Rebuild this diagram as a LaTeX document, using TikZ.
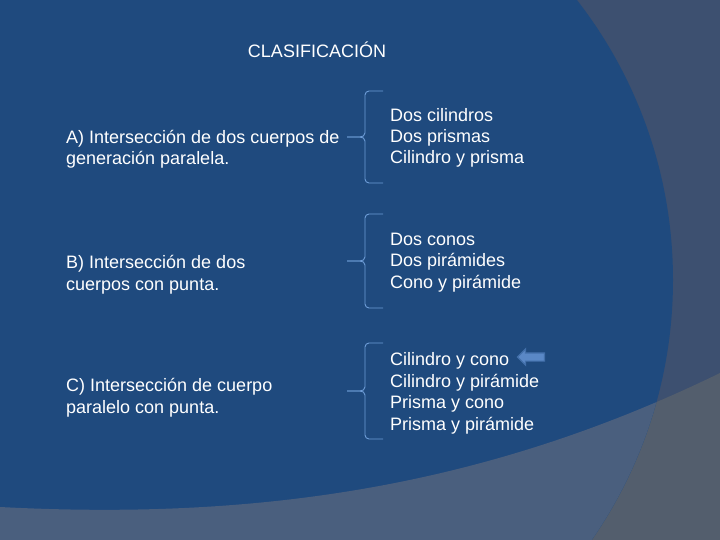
\documentclass[tikz,border=0pt]{standalone}
\usepackage{fontspec}
\setmainfont{Liberation Sans}
\usetikzlibrary{shapes.arrows}

\definecolor{fondo}{HTML}{3D5070}
\definecolor{azul}{HTML}{1F4A7E}
\definecolor{franja}{HTML}{535E6D}
\definecolor{franjaazul}{HTML}{4A5F7E}
\definecolor{llavecol}{HTML}{6E9DD8}
\definecolor{flechacol}{HTML}{5A88C6}

\tikzset{
  texto/.style={text=white, inner sep=0pt, align=left, anchor=base west,
    font=\fontsize{18}{21.4}\selectfont},
  llave/.style={draw=llavecol, line width=0.9pt}
}

\begin{document}
\begin{tikzpicture}[x=1pt,y=-1pt]
    \useasboundingbox (0,0) rectangle (720,540);
    % fondo
    \fill[fondo] (0,0) rectangle (720,540);
    \fill[franja] (0,507) .. controls (250,520) and (480,490) .. (720,373)
      -- (720,540) -- (0,540) -- cycle;
    \fill[azul] (217,280) circle[radius=456pt];
    \begin{scope}
      \clip (217,280) circle[radius=456pt];
      \fill[franjaazul] (0,507) .. controls (250,520) and (480,490) .. (720,373)
        -- (720,540) -- (0,540) -- cycle;
    \end{scope}

    \node[texto, anchor=base] (titulo) at (317,58) {CLASIFICACIÓN};

    % base = ultima linea
    \node[texto] (tipoA) at (66,165) {A) Intersección de dos cuerpos de\\generación paralela.};
    \node[texto] (tipoB) at (66,290) {B) Intersección de dos\\cuerpos con punta.};
    \node[texto] (tipoC) at (66,413) {C) Intersección de cuerpo\\paralelo con punta.};

    \node[texto] (casosA) at (390,164) {Dos cilindros\\Dos prismas\\Cilindro y prisma};
    \node[texto] (casosB) at (390,288) {Dos conos\\Dos pirámides\\Cono y pirámide};
    \node[texto] (casosC) at (390,430) {Cilindro y cono\\Cilindro y pirámide\\Prisma y cono\\Prisma y pirámide};

    % llaves
    \foreach \n/\m/\h in {A/137/46, B/261/47, C/391/48}{
      \coordinate (punta\n) at (347,\m);
      \draw[llave] (punta\n) -- ++(13,0) to[out=0,in=-90] ++(5,-4)
        -- ++(0,-\h+8) to[out=90,in=180] ++(4,-4) -- ++(14,0);
      \draw[llave] (punta\n) -- ++(13,0) to[out=0,in=90] ++(5,4)
        -- ++(0,\h-8) to[out=-90,in=180] ++(4,4) -- ++(14,0);
    }

    \node[single arrow, shape border rotate=180, fill=flechacol,
      draw=flechacol!60!azul, line width=1.2pt, inner sep=3.5pt,
      minimum width=15pt, minimum height=27pt, single arrow head extend=4pt]
      (flecha) at (533,357) {};
\end{tikzpicture}
\end{document}
